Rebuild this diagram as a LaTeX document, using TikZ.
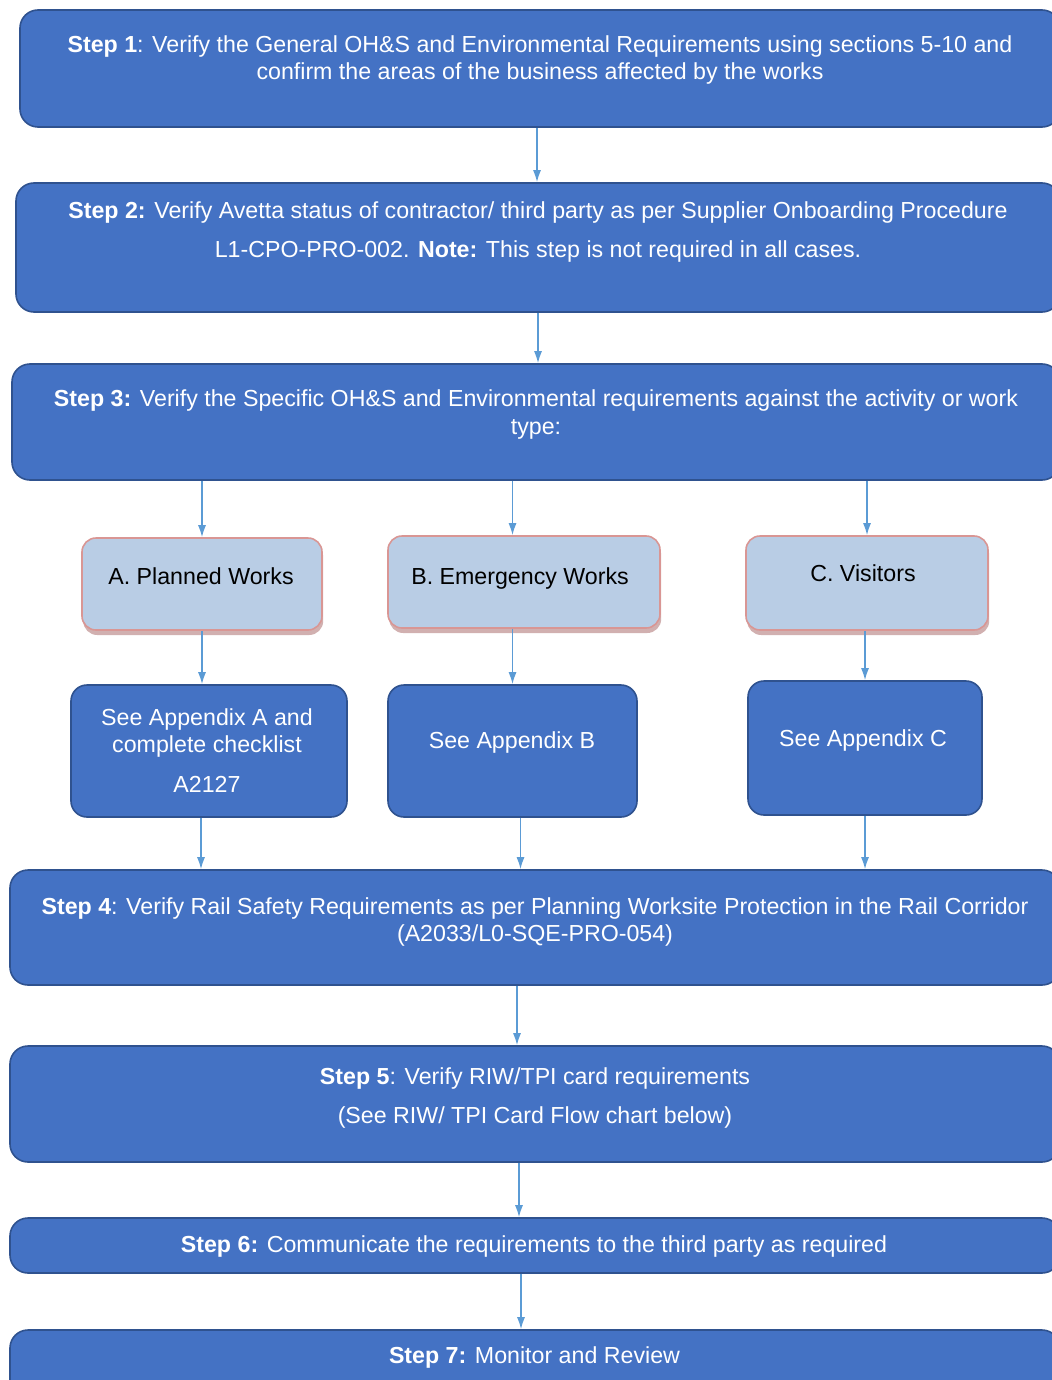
\documentclass[tikz,border=0pt]{standalone}
\usepackage{fontspec}
\setmainfont{Liberation Sans}
\usepackage{tikz}
\usetikzlibrary{positioning}
\usetikzlibrary{arrows.meta}
\usetikzlibrary{shadows}
\definecolor{stepblue}{HTML}{4472C4}
\definecolor{stepline}{HTML}{2F528F}
\definecolor{catblue}{HTML}{B9CDE5}
\definecolor{catline}{HTML}{D99694}
\definecolor{flowblue}{HTML}{5B9BD5}
\tikzset{
  stepbox/.style={draw=stepline,fill=stepblue,line width=0.8pt,rounded corners=9pt,inner sep=0pt},
  catbox/.style={draw=catline,fill=catblue,line width=0.8pt,rounded corners=7pt,inner sep=0pt,
    drop shadow={shadow xshift=0.6pt,shadow yshift=-2.5pt,fill=catline!70!gray,opacity=0.7}},
  appbox/.style={draw=stepline,fill=stepblue,line width=0.8pt,rounded corners=8pt,inner sep=0pt},
  steptext/.style={text=white,align=center,font=\fontsize{11.6}{13.5}\selectfont,inner sep=0pt},
  cattext/.style={text=black,align=center,font=\fontsize{11.6}{13.5}\selectfont,inner sep=0pt},
  flow/.style={-{Latex[length=6pt,width=4pt]},draw=flowblue,fill=flowblue,line width=0.75pt}
}
\begin{document}
\begin{tikzpicture}[x=0.5pt,y=-0.5pt]
   \useasboundingbox (0,0) rectangle (1052,1380);
   % boxes
   \node[stepbox,minimum width=520pt,minimum height=58.5pt] (s1) at (540,68.5) {};
   \node[stepbox,minimum width=522pt,minimum height=64.5pt] (s2) at (538,247.5) {};
   \node[stepbox,minimum width=524pt,minimum height=58pt] (s3) at (536,422) {};
   \node[catbox,minimum width=120pt,minimum height=46pt] (catA) at (202,584) {};
   \node[catbox,minimum width=136pt,minimum height=46pt] (catB) at (524,582) {};
   \node[catbox,minimum width=121pt,minimum height=47pt] (catC) at (867,583) {};
   \node[appbox,minimum width=138pt,minimum height=66pt] (appA) at (209,751) {};
   \node[appbox,minimum width=124.5pt,minimum height=66pt] (appB) at (512.5,751) {};
   \node[appbox,minimum width=117pt,minimum height=67pt] (appC) at (865,748) {};
   \node[stepbox,minimum width=525pt,minimum height=57.5pt] (s4) at (535,927.5) {};
   \node[stepbox,minimum width=525pt,minimum height=58pt] (s5) at (535,1104) {};
   \node[stepbox,minimum width=525pt,minimum height=27.5pt] (s6) at (535,1245.5) {};
   \node[stepbox,minimum width=525pt,minimum height=35pt] (s7) at (535,1365) {};
   % texts
   \node[steptext] (t1) at (540,60.5) {\textbf{Step 1}: Verify the General OH\&S and Environmental Requirements using sections 5-10 and\\confirm the areas of the business affected by the works};
   \node[steptext] (t2) at (538,232.5) {\textbf{Step 2:} Verify Avetta status of contractor/ third party as per Supplier Onboarding Procedure\\[6pt]L1-CPO-PRO-002. \textbf{Note:} This step is not required in all cases.};
   \node[steptext] (t3) at (536,414.5) {\textbf{Step 3:} Verify the Specific OH\&S and Environmental requirements against the activity or work\\type:};
   \node[cattext] (tA) at (201,576) {A. Planned Works};
   \node[cattext] (tB) at (520,578) {B. Emergency Works};
   \node[cattext] (tC) at (863,573) {C. Visitors};
   \node[steptext] (tAppA) at (207,750.5) {See Appendix A and\\complete checklist\\[6.5pt]A2127};
   \node[steptext] (tAppB) at (512,742) {See Appendix B};
   \node[steptext] (tAppC) at (863,740) {See Appendix C};
   \node[steptext] (t4) at (535,921.5) {\textbf{Step 4}: Verify Rail Safety Requirements as per Planning Worksite Protection in the Rail Corridor\\(A2033/L0-SQE-PRO-054)};
   \node[steptext] (t5) at (535,1097.5) {\textbf{Step 5}: Verify RIW/TPI card requirements\\[6pt](See RIW/ TPI Card Flow chart below)};
   \node[steptext] (t6) at (534,1246) {\textbf{Step 6:} Communicate the requirements to the third party as required};
   \node[steptext] (t7) at (534.5,1357) {\textbf{Step 7:} Monitor and Review};
   % arrows
   \draw[flow] ([xshift=-1.5pt]s1.south) -- ([xshift=-1.5pt]s1.south |- s2.north);
   \draw[flow] (s2.south) -- (s2.south |- s3.north);
   \draw[flow] (catA.north |- s3.south) -- (catA.north);
   \draw[flow] (appB.north |- s3.south) -- (appB.north |- catB.north);
   \draw[flow] (catC.north |- s3.south) -- (catC.north);
   \draw[flow] (catA.south) -- (catA.south |- appA.north);
   \draw[flow] (appB.north |- catB.south) -- (appB.north);
   \draw[flow] (appC.north |- catC.south) -- (appC.north);
   \draw[flow] ([xshift=-4pt]appA.south) -- ([xshift=-4pt]appA.south |- s4.north);
   \draw[flow] ([xshift=4pt]appB.south) -- ([xshift=4pt]appB.south |- s4.north);
   \draw[flow] (appC.south) -- (appC.south |- s4.north);
   \draw[flow] ([xshift=-9pt]s4.south) -- ([xshift=-9pt]s4.south |- s5.north);
   \draw[flow] ([xshift=-8pt]s5.south) -- ([xshift=-8pt]s5.south |- s6.north);
   \draw[flow] ([xshift=-7pt]s6.south) -- ([xshift=-7pt]s6.south |- s7.north);
\end{tikzpicture}
\end{document}
